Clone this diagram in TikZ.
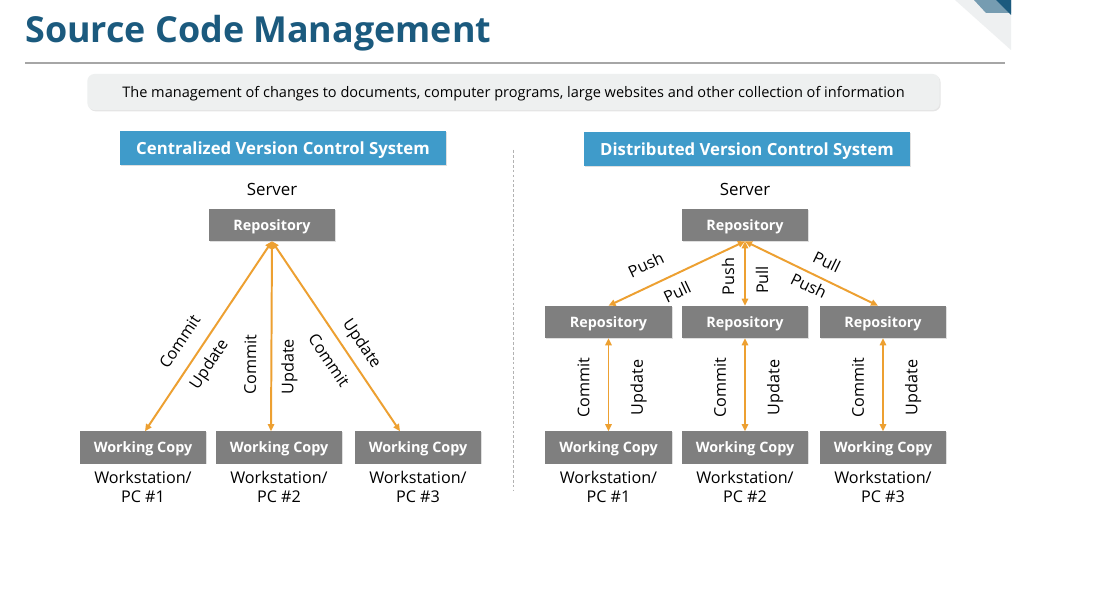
\documentclass[tikz,border=0pt]{standalone}
\usepackage{fontspec}
\setmainfont{Open Sans}
\usepackage{xcolor}
\usepackage{tikz}
\usetikzlibrary{arrows.meta, positioning, calc, shadows}

\definecolor{titleblue}{HTML}{1B5A7E}
\definecolor{headblue}{HTML}{3F9BCA}
\definecolor{boxgray}{HTML}{7F7F7F}
\definecolor{linkorange}{HTML}{EDA031}
\definecolor{notegray}{HTML}{EEF0F0}

\begin{document}
\begin{tikzpicture}[
    x=0.025cm, y=-0.025cm,
    >={Triangle[length=5pt, width=4.5pt]},
    box/.style={fill=boxgray, text=white, minimum width=3.15cm, minimum height=0.8cm,
        inner sep=0pt, text depth=0pt, font=\bfseries\fontsize{10.2}{12}\selectfont,
        drop shadow={opacity=0.25, shadow xshift=0.7pt, shadow yshift=-0.7pt}},
    header/.style={fill=headblue, text=white, minimum width=8.15cm, minimum height=0.85cm,
        inner sep=0pt, text depth=0pt, font=\bfseries\fontsize{11.9}{14}\selectfont,
        drop shadow={opacity=0.25, shadow xshift=0.7pt, shadow yshift=-0.7pt}},
    note/.style={fill=notegray, rounded corners=5pt, minimum width=21.3cm, minimum height=0.9cm,
        inner sep=0pt, text depth=0pt, font=\fontsize{10.35}{12}\selectfont,
        drop shadow={opacity=0.2, shadow xshift=0.7pt, shadow yshift=-0.9pt}},
    caption/.style={align=center, inner sep=0pt, font=\fontsize{11.5}{13.5}\selectfont},
    server/.style={inner sep=0pt, font=\fontsize{12}{14}\selectfont},
    link/.style={<->, draw=linkorange, line width=1.4pt},
    edge label/.style={sloped, inner sep=0pt, font=\fontsize{11.5}{13}\selectfont}
]
\useasboundingbox[fill=white] (0,0) rectangle (1093,615);

% Corner
\fill[blue!40!cyan!10!gray!12] (955,0) -- (1011,0) -- (1011,50) -- cycle;
\fill[titleblue!60] (974,0) -- (1011,0) -- (1011,13) -- (986,13) -- cycle;
\fill[titleblue] (996,0) -- (1011,0) -- (1011,15) -- cycle;

% Title
\node[anchor=base west, inner sep=0pt, text=titleblue, font=\bfseries\fontsize{25.5}{30}\selectfont]
    (title) at (25,43) {Source Code Management};
\draw[gray!70, line width=0.8pt] (25,63) -- (1005,63);
\node[note] (desc) at (513.5,92) {The management of changes to documents, computer programs, large websites and other collection of information};
\draw[gray!60, line width=0.7pt, dash pattern=on 2pt off 1.5pt] (513,150) -- (513,490);

% Nodes: centralized
\node[header] (chead) at (283,148) {Centralized Version Control System};
\node[box] (crepo) at (272,225) {Repository};
\node[server, above=9pt of crepo] (csrv) {Server};
\node[box] (cwc1) at (143,447.5) {Working Copy};
\node[box] (cwc2) at (279,447.5) {Working Copy};
\node[box] (cwc3) at (418,447.5) {Working Copy};
\node[caption, below=5pt of cwc1] (cpc1) {Workstation/\\PC \#1};
\node[caption, below=5pt of cwc2] (cpc2) {Workstation/\\PC \#2};
\node[caption, below=5pt of cwc3] (cpc3) {Workstation/\\PC \#3};

% Nodes: distributed
\node[header] (dhead) at (747,149.5) {Distributed Version Control System};
\node[box] (drepo) at (745,225) {Repository};
\node[server, above=9pt of drepo] (dsrv) {Server};
\node[box] (drepo1) at (608.5,322) {Repository};
\node[box] (drepo2) at (745,322) {Repository};
\node[box] (drepo3) at (883,322) {Repository};
\node[box] (dwc1) at (608.5,447.5) {Working Copy};
\node[box] (dwc2) at (745,447.5) {Working Copy};
\node[box] (dwc3) at (883,447.5) {Working Copy};
\node[caption, below=5pt of dwc1] (dpc1) {Workstation/\\PC \#1};
\node[caption, below=5pt of dwc2] (dpc2) {Workstation/\\PC \#2};
\node[caption, below=5pt of dwc3] (dpc3) {Workstation/\\PC \#3};

% Edges: centralized
\draw[link] ($(cwc1.north)+(2,0)$) -- (crepo.south)
    node[pos=.41, above=10pt, edge label] {Commit}
    node[pos=.40, below=5.6pt, edge label] {Update};
\draw[link] ($(cwc2.north)+(-8,0)$) -- (crepo.south)
    node[pos=.35, above=10pt, edge label] {Commit}
    node[pos=.34, below=6.4pt, edge label] {Update};
\draw[link] (crepo.south) -- ($(cwc3.north)+(-18,0)$)
    node[pos=.59, above=5.3pt, edge label] {Update}
    node[pos=.57, below=8.6pt, edge label] {Commit};

% Edges: distributed
\draw[link] (drepo1.north) -- (drepo.south)
    node[pos=.34, above=10pt, edge label] {Push}
    node[pos=.45, below=6.8pt, edge label] {Pull};
\draw[link] (drepo2.north) -- (drepo.south)
    node[pos=.45, above=7pt, edge label] {Push}
    node[pos=.40, below=7pt, edge label] {Pull};
\draw[link] (drepo.south) -- ($(drepo3.north)+(-5,0)$)
    node[pos=.56, above=7pt, edge label] {Pull}
    node[pos=.52, below=3.5pt, edge label] {Push};

\draw[link] (dwc1.north) -- (drepo1.south)
    node[pos=.47, above=12.8pt, edge label] {Commit}
    node[pos=.47, below=15pt, edge label] {Update};
\draw[link] (dwc2.north) -- (drepo2.south)
    node[pos=.47, above=12.8pt, edge label] {Commit}
    node[pos=.47, below=15pt, edge label] {Update};
\draw[link] (dwc3.north) -- (drepo3.south)
    node[pos=.47, above=12.8pt, edge label] {Commit}
    node[pos=.47, below=15pt, edge label] {Update};

\end{tikzpicture}
\end{document}
